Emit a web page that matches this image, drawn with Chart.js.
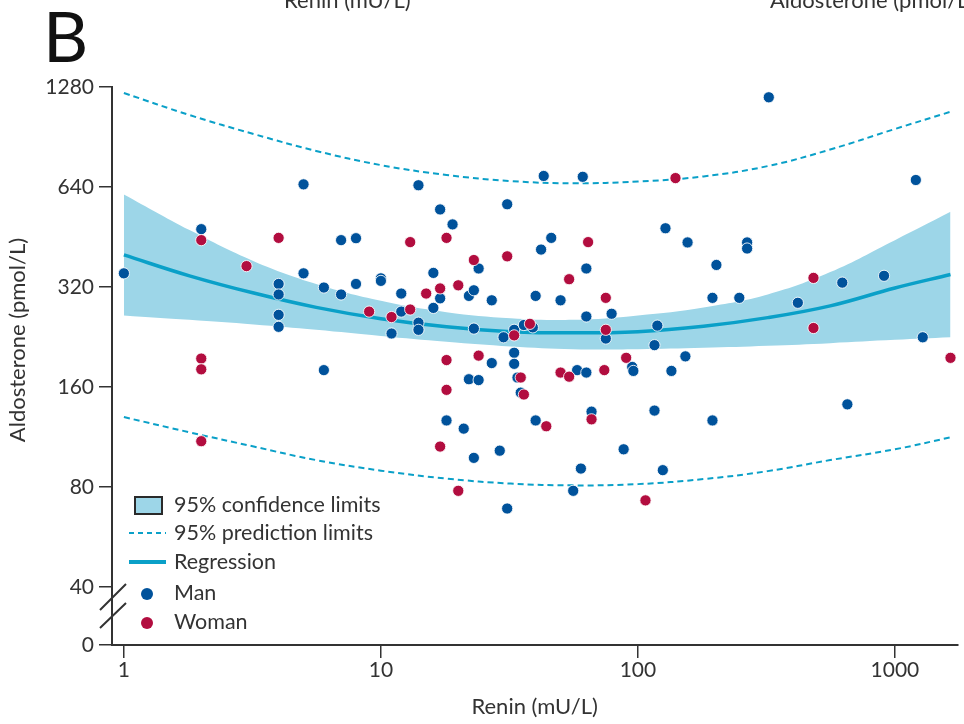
<!DOCTYPE html>
<html>
<head>
<meta charset="utf-8">
<title>Renina y aldosterona</title>
<script src="https://cdn.jsdelivr.net/npm/chart.js@4.4.0/dist/chart.umd.min.js"></script>
<style>
  html, body { margin: 0; padding: 0; background: #fff; }
  #contenedor { width: 964px; height: 724px; }
</style>
</head>
<body>
<div id="contenedor"><canvas id="myChart" width="964" height="724"></canvas></div>
<script>
//* Datos

// Hombres: renina (mU/L) y aldosterona (pmol/L)
var hombresRenina = [1, 2, 5, 4, 4, 4, 4, 5, 6, 7, 8, 7, 8, 10, 10, 11, 12, 12, 14, 17,
  19, 16, 17, 22, 23, 27, 24, 31, 43, 61, 128, 46, 42, 63, 14, 14, 16, 23, 40, 50,
  30, 33, 36, 39, 33, 33, 27, 63, 79, 75, 119, 116, 95, 96, 135, 153, 323, 1206, 156, 266,
  266, 202, 195, 248, 419, 624, 907, 1283, 195, 653, 125, 22, 24, 34, 35, 18, 21, 23, 29, 40,
  66, 116, 88, 60, 56, 31, 58, 63, 6];
var hombresAldosterona = [352, 478, 652, 327, 304, 264, 243, 352, 319, 443, 449, 304, 327, 340, 334, 232, 306, 270, 648, 548,
  494, 353, 296, 301, 313, 292, 364, 568, 691, 687, 481, 450, 415, 364, 250, 238, 277, 240, 301, 292,
  226, 238, 246, 242, 203, 188, 189, 261, 266, 224, 245, 214, 184, 179, 179, 198, 1192, 672, 436, 436,
  418, 373, 297, 297, 287, 330, 346, 226, 127, 142, 90, 169, 168, 171, 154, 127, 120, 98, 103, 127,
  135, 136, 104, 91, 78, 69, 180, 177, 180];

// Mujeres
var mujeresRenina = [2, 4, 3, 9, 11, 2, 2, 2, 13, 18, 23, 31, 140, 64, 54, 15, 17, 20, 13, 33,
  38, 75, 75, 18, 24, 90, 50, 54, 74, 482, 482, 1645, 18, 35, 36, 17, 44, 66, 20, 107];
var mujeresAldosterona = [443, 450, 370, 270, 260, 195, 181, 110, 437, 450, 386, 396, 681, 437, 338, 306, 317, 324, 274, 229,
  248, 297, 238, 193, 199, 196, 177, 172, 180, 341, 241, 196, 157, 171, 152, 106, 122, 128, 78, 73];

// Curvas de la regresion (leidas cada cuarto de decada de renina)
var curvaRenina = [1, 1.8, 3.2, 5.6, 10, 18, 32, 56, 100, 180, 320, 560, 1000, 1645];
var regresion = [400, 346, 307, 278, 257, 243, 235, 233, 235, 244, 259, 281, 318, 349];
var confianzaSup = [608, 475, 383, 327, 291, 269, 258, 255, 263, 278, 304, 355, 443, 539];
var confianzaInf = [263, 255, 247, 238, 228, 219, 212, 208, 208, 210, 213, 217, 222, 226];
var prediccionSup = [1228, 1054, 924, 822, 745, 696, 667, 657, 665, 689, 740, 830, 957, 1078];
var prediccionInf = [130, 117, 106, 96.5, 89.7, 84.9, 82, 81, 81.7, 84.6, 89.4, 96.5, 104, 113];

// Ejes
var ticksRenina = [1, 10, 100, 1000];
var ceroEje = 26.8; // fondo del eje cortado, se rotula como 0
var ticksAldosterona = [ceroEje, 40, 80, 160, 320, 640, 1280];

var azul = '#00529b';
var rojo = '#b20d3f';
var celeste = '#9dd6e8';
var cian = '#0aa0c8';
var texto = '#333333';
var fuente = 'Lato, "Open Sans", sans-serif';

function puntos(xs, ys) {
  return xs.map(function (x, i) { return { x: x, y: ys[i] }; });
}

//* Dibujos extra: letra del panel, titulos, corte del eje y leyenda
var decoraciones = {
  id: 'decoraciones',
  afterDraw: function (chart) {
    var ctx = chart.ctx;
    ctx.save();

    ctx.fillStyle = '#111';
    ctx.font = '70px ' + fuente;
    ctx.textBaseline = 'alphabetic';
    ctx.fillText('B', 43, 62);

    // titulos del panel de arriba (quedan cortados)
    ctx.fillStyle = texto;
    ctx.font = '22px ' + fuente;
    ctx.fillText('Renin (mU/L)', 284, 8);
    ctx.fillText('Aldosterone (pmol/L)', 770, 8);

    // titulo del eje y
    ctx.save();
    ctx.translate(18, 340);
    ctx.rotate(-Math.PI / 2);
    ctx.textAlign = 'center';
    ctx.textBaseline = 'middle';
    ctx.fillText('Aldosterone (pmol/L)', 0, 0);
    ctx.restore();

    // marcas de corte
    ctx.strokeStyle = texto;
    ctx.lineWidth = 2;
    ctx.beginPath();
    ctx.moveTo(100, 610); ctx.lineTo(126, 584);
    ctx.moveTo(100, 628); ctx.lineTo(126, 603);
    ctx.stroke();

    // leyenda
    ctx.fillStyle = celeste;
    ctx.fillRect(135, 497, 27, 17);
    ctx.strokeStyle = '#2a2a2a';
    ctx.lineWidth = 2;
    ctx.strokeRect(135, 497, 27, 17);

    ctx.strokeStyle = cian;
    ctx.setLineDash([5, 4]);
    ctx.lineWidth = 2;
    ctx.beginPath(); ctx.moveTo(129, 533); ctx.lineTo(166, 533); ctx.stroke();
    ctx.setLineDash([]);
    ctx.lineWidth = 4;
    ctx.beginPath(); ctx.moveTo(129, 562); ctx.lineTo(166, 562); ctx.stroke();

    ctx.fillStyle = azul;
    ctx.beginPath(); ctx.arc(147, 594, 6, 0, Math.PI * 2); ctx.fill();
    ctx.fillStyle = rojo;
    ctx.beginPath(); ctx.arc(147, 623, 6, 0, Math.PI * 2); ctx.fill();

    ctx.fillStyle = texto;
    ctx.font = '21.5px ' + fuente;
    ctx.textBaseline = 'middle';
    ctx.fillText('95% confidence limits', 174, 505);
    ctx.fillText('95% prediction limits', 174, 533);
    ctx.fillText('Regression', 174, 562);
    ctx.fillText('Man', 174, 593);
    ctx.fillText('Woman', 174, 622);

    ctx.restore();
  }
};

// opciones comunes de las curvas
function curva(etiqueta, valores, extra) {
  var ds = {
    label: etiqueta,
    type: 'line',
    data: puntos(curvaRenina, valores),
    pointRadius: 0,
    tension: 0.4,
    fill: false
  };
  return Object.assign(ds, extra);
}

//* Grafico
document.addEventListener('DOMContentLoaded', function () {
  var ctx = document.getElementById('myChart').getContext('2d');

  new Chart(ctx, {
    type: 'scatter',
    data: {
      datasets: [
        {
          label: 'Woman',
          data: puntos(mujeresRenina, mujeresAldosterona),
          backgroundColor: rojo,
          borderColor: 'rgba(255,255,255,0.85)',
          borderWidth: 1,
          pointRadius: 5.6,
          clip: false,
          order: 0
        },
        {
          label: 'Man',
          data: puntos(hombresRenina, hombresAldosterona),
          backgroundColor: azul,
          borderColor: 'rgba(255,255,255,0.85)',
          borderWidth: 1,
          pointRadius: 5.6,
          clip: false,
          order: 1
        },
        curva('Regression', regresion, { borderColor: cian, borderWidth: 3.5, order: 2 }),
        curva('95% prediction limits', prediccionSup, { borderColor: cian, borderWidth: 2, borderDash: [6, 4], order: 3 }),
        curva('95% prediction limits (inf)', prediccionInf, { borderColor: cian, borderWidth: 2, borderDash: [6, 4], order: 3 }),
        curva('95% confidence limits', confianzaSup, {
          borderWidth: 0, borderColor: 'rgba(0,0,0,0)', backgroundColor: celeste, fill: '+1', order: 4
        }),
        curva('95% confidence limits (inf)', confianzaInf, { borderWidth: 0, borderColor: 'rgba(0,0,0,0)', order: 4 })
      ]
    },
    options: {
      responsive: false,
      animation: false,
      layout: { padding: { top: 87, right: 0, left: 0, bottom: 0 } },
      plugins: {
        legend: { display: false },
        tooltip: { enabled: false }
      },
      scales: {
        x: {
          type: 'logarithmic',
          min: 0.899,
          max: 1750,
          bounds: 'data',
          afterBuildTicks: function (scale) {
            scale.ticks = ticksRenina.map(function (v) { return { value: v }; });
          },
          afterFit: function (scale) { scale.height = 79; },
          border: { display: true, color: texto, width: 2 },
          grid: { drawOnChartArea: false, drawTicks: true, tickLength: 13, color: texto, lineWidth: 1.5 },
          ticks: {
            color: texto,
            font: { family: fuente, size: 21 },
            padding: 0,
            maxRotation: 0,
            autoSkip: false,
            callback: function (value) { return String(value); }
          },
          title: {
            display: true,
            text: 'Renin (mU/L)',
            color: texto,
            font: { family: fuente, size: 22 },
            padding: { top: 0, bottom: 4 }
          }
        },
        y: {
          type: 'logarithmic',
          min: ceroEje,
          max: 1280,
          bounds: 'data',
          afterBuildTicks: function (scale) {
            scale.ticks = ticksAldosterona.map(function (v) { return { value: v }; });
          },
          afterFit: function (scale) { scale.width = 112; },
          border: { display: true, color: texto, width: 2 },
          grid: { drawOnChartArea: false, drawTicks: true, tickLength: 13, color: texto, lineWidth: 1.5 },
          ticks: {
            color: texto,
            font: { family: fuente, size: 21 },
            padding: 5,
            autoSkip: false,
            callback: function (value, index) { return index === 0 ? '0' : String(value); }
          }
        }
      }
    },
    plugins: [decoraciones]
  });
});
</script>
</body>
</html>
